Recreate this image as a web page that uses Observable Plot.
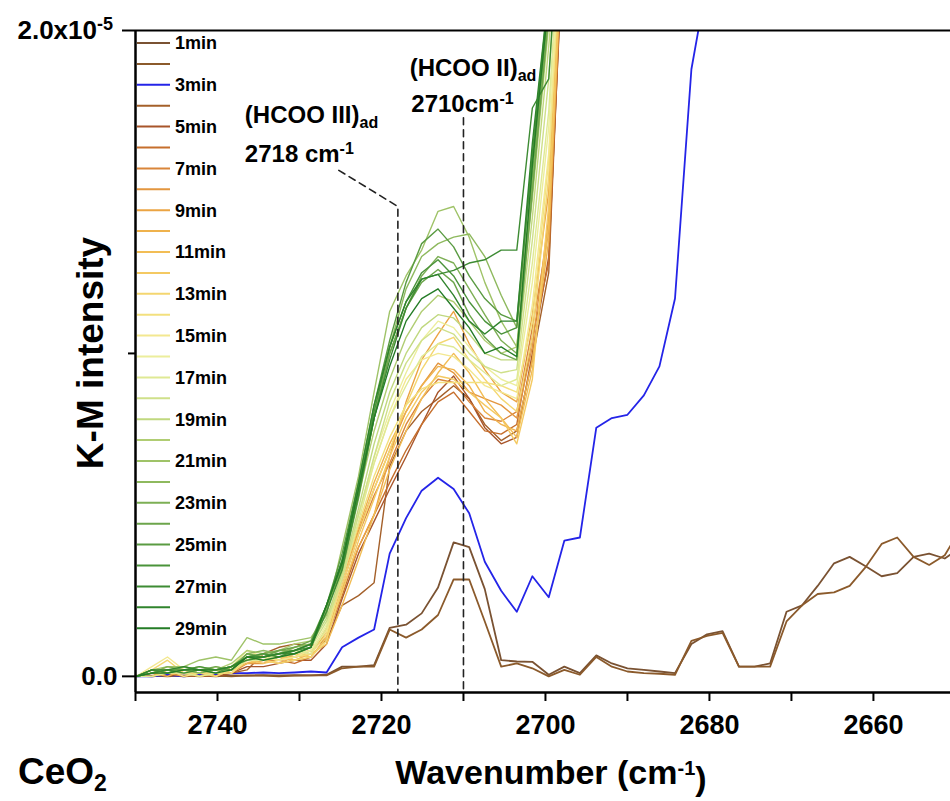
<!DOCTYPE html>
<html>
<head>
<meta charset="utf-8">
<script src="https://cdn.jsdelivr.net/npm/d3@7"></script>
<script src="https://cdn.jsdelivr.net/npm/@observablehq/plot@0.6"></script>
<style>
  html, body { margin: 0; padding: 0; background: #fff; }
  svg { display: block; }
</style>
</head>
<body>
<div id="chart"></div>
<script>
// Wavenumber grid (cm^-1)
const wavenumbers = [2749.9, 2748.0, 2746.1, 2744.1, 2742.2, 2740.2, 2738.3, 2736.4, 2734.4, 2732.5,
  2730.6, 2728.6, 2726.7, 2724.8, 2722.8, 2720.9, 2719.0, 2717.0, 2715.1, 2713.1,
  2711.2, 2709.3, 2707.4, 2705.4, 2703.5, 2701.6, 2699.6, 2697.7, 2695.8, 2693.8,
  2691.9, 2690.0, 2688.0, 2686.1, 2684.2, 2682.2, 2680.3, 2678.4, 2676.4, 2674.5,
  2672.6, 2670.6, 2668.7, 2666.8, 2664.8, 2662.9, 2660.9, 2659.0, 2657.1, 2655.1,
  2653.2, 2651.3, 2649.3];

// K-M intensity values, in units of 1e-5
const km01 = [0.002,0.0,0.003,0.0,0.002,0.0,0.003,0.002,0.004,0.003,0.004,0.003,
  0.005,0.03,0.03,0.035,0.15,0.16,0.195,0.275,0.415,0.40,0.27,0.05,0.046,0.045,0.005,0.03,0.01,0.065,
  0.04,0.025,0.02,0.015,0.01,0.10,0.13,0.14,0.03,0.03,0.04,0.20,0.22,0.28,0.35,0.37,0.34,0.31,0.32,0.37,
  0.38,0.365,0.40];
const km02 = [0.0,0.002,0.0,0.003,0.0,0.002,0.0,0.003,0.002,0.0,0.002,0.003,
  0.003,0.025,0.03,0.03,0.145,0.12,0.145,0.19,0.30,0.30,0.17,0.03,0.04,0.025,0.0,0.02,0.005,0.06,
  0.03,0.015,0.01,0.008,0.005,0.11,0.125,0.135,0.03,0.03,0.03,0.17,0.22,0.255,0.26,0.28,0.34,0.41,0.43,0.37,
  0.345,0.375,0.46];
const km03 = [0.0,0.0,0.005,0.0,0.005,0.005,0.01,0.01,0.012,0.01,0.012,0.015,
  0.012,0.09,0.12,0.145,0.38,0.49,0.575,0.615,0.58,0.505,0.355,0.265,0.20,0.31,0.245,0.42,0.43,0.77,
  0.80,0.81,0.87,0.96,1.17,1.88,2.15];
const km04 = [0.00,0.00,0.01,0.00,0.00,0.00,0.01,0.02,0.07,0.09,0.10,0.095,0.11,0.22,0.25,0.29,0.65,0.76,0.82,0.86,0.90,0.86,0.78,0.73,0.76,0.98,1.25,2.40];
const km05 = [0.00,0.01,0.00,0.01,0.02,0.00,0.01,0.03,0.03,0.04,0.05,0.05,0.10,0.24,0.38,0.48,0.58,0.68,0.78,0.88,0.93,0.86,0.77,0.72,0.74,1.00,1.30,2.35];
const km06 = [0.00,0.00,0.02,0.01,0.00,0.01,0.02,0.04,0.05,0.05,0.04,0.06,0.12,0.25,0.40,0.50,0.60,0.70,0.78,0.85,0.88,0.82,0.76,0.75,0.78,1.05,1.28,2.40];
const km07 = [0.00,0.01,0.01,0.02,0.01,0.00,0.03,0.05,0.06,0.05,0.07,0.08,0.12,0.28,0.44,0.56,0.66,0.78,0.86,0.92,0.91,0.85,0.80,0.79,0.82,1.08,1.38,2.45];
const km08 = [0.00,0.00,0.01,0.00,0.01,0.02,0.01,0.04,0.04,0.06,0.06,0.07,0.14,0.30,0.45,0.58,0.70,0.82,0.90,0.97,0.94,0.88,0.86,0.84,0.80,1.02,1.42,2.40];
const km09 = [0.00,0.02,0.02,0.01,0.00,0.01,0.02,0.05,0.06,0.05,0.06,0.08,0.13,0.27,0.40,0.50,0.68,0.85,0.98,1.06,1.13,1.03,0.95,0.88,0.85,1.12,1.50,2.45];
const km10 = [0.00,0.01,0.00,0.02,0.01,0.01,0.03,0.06,0.05,0.04,0.06,0.07,0.15,0.30,0.46,0.60,0.72,0.82,0.90,0.96,0.95,0.90,0.82,0.78,0.76,0.98,1.35,2.40];
const km11 = [0.00,0.00,0.02,0.01,0.02,0.00,0.02,0.04,0.05,0.06,0.05,0.07,0.10,0.22,0.36,0.50,0.64,0.76,0.86,0.94,1.00,0.94,0.86,0.80,0.74,0.95,1.40,2.45];
const km12 = [0.00,0.01,0.03,0.02,0.00,0.01,0.01,0.05,0.04,0.05,0.07,0.06,0.12,0.26,0.42,0.55,0.68,0.80,0.88,0.93,0.92,0.88,0.84,0.80,0.72,0.92,1.46,2.40];
const km13 = [0.00,0.02,0.05,0.01,0.01,0.00,0.02,0.06,0.05,0.04,0.05,0.06,0.11,0.28,0.44,0.58,0.70,0.84,0.95,1.03,1.05,0.98,0.92,0.86,0.82,1.05,1.55,2.50];
const km14 = [0.00,0.01,0.02,0.00,0.01,0.01,0.01,0.05,0.06,0.05,0.06,0.07,0.13,0.30,0.47,0.62,0.74,0.84,0.89,0.91,0.91,0.91,0.91,0.90,0.88,1.10,1.60,2.45];
const km15 = [0.00,0.03,0.06,0.02,0.01,0.02,0.03,0.08,0.06,0.05,0.06,0.08,0.14,0.32,0.50,0.66,0.80,0.92,0.98,1.00,0.99,0.95,0.90,0.88,0.86,1.15,1.62,2.50];
const km16 = [0.00,0.01,0.02,0.02,0.02,0.01,0.03,0.06,0.05,0.06,0.07,0.08,0.16,0.33,0.50,0.68,0.82,0.94,1.04,1.10,1.08,1.02,0.96,0.92,0.90,1.22,1.70,2.50];
const km17 = [0.00,0.00,0.01,0.01,0.00,0.01,0.02,0.05,0.05,0.07,0.08,0.07,0.15,0.31,0.48,0.66,0.80,0.90,0.99,1.03,1.02,0.98,0.94,0.90,0.92,1.28,1.75,2.55];
const km18 = [0.00,0.01,0.02,0.01,0.02,0.02,0.02,0.06,0.07,0.06,0.07,0.09,0.17,0.30,0.50,0.68,0.85,0.97,1.04,1.08,1.06,1.00,0.96,0.94,0.95,1.35,1.85,2.55];
const km19 = [0.00,0.02,0.01,0.02,0.01,0.03,0.02,0.07,0.06,0.07,0.09,0.10,0.18,0.32,0.52,0.72,0.88,1.00,1.08,1.12,1.11,1.06,1.00,0.98,0.98,1.42,1.95,2.55];
const km20 = [0.00,0.01,0.02,0.03,0.02,0.02,0.04,0.08,0.07,0.08,0.10,0.11,0.20,0.34,0.56,0.76,0.92,1.05,1.13,1.18,1.16,1.10,1.04,1.00,1.02,1.48,2.02,2.60];
const km21 = [0.00,0.02,0.03,0.03,0.05,0.06,0.05,0.12,0.10,0.10,0.11,0.12,0.19,0.40,0.62,0.88,1.13,1.24,1.32,1.44,1.455,1.36,1.22,1.10,1.02,1.50,2.05,2.60];
const km22 = [0.00,0.01,0.02,0.02,0.03,0.02,0.03,0.07,0.08,0.07,0.09,0.10,0.20,0.36,0.58,0.82,1.02,1.20,1.30,1.34,1.36,1.37,1.30,1.18,1.08,1.52,2.06,2.60];
const km23 = [0.00,0.01,0.03,0.02,0.01,0.02,0.03,0.06,0.07,0.08,0.08,0.10,0.21,0.33,0.55,0.80,1.00,1.14,1.24,1.30,1.28,1.20,1.12,1.04,1.00,1.55,2.08,2.60];
const km24 = [0.00,0.02,0.01,0.03,0.02,0.03,0.02,0.07,0.06,0.08,0.09,0.11,0.22,0.34,0.56,0.80,1.00,1.14,1.22,1.26,1.22,1.12,1.05,1.00,0.98,1.50,2.05,2.60];
const km25 = [0.00,0.01,0.02,0.02,0.02,0.01,0.03,0.06,0.06,0.07,0.08,0.10,0.22,0.38,0.60,0.84,1.04,1.22,1.34,1.385,1.33,1.24,1.17,1.12,1.10,1.60,2.10,2.60];
const km26 = [0.00,0.02,0.01,0.02,0.03,0.02,0.02,0.06,0.07,0.06,0.08,0.09,0.22,0.35,0.58,0.82,1.02,1.16,1.25,1.29,1.24,1.16,1.10,1.06,1.08,1.62,2.12,2.60];
const km27 = [0.00,0.01,0.02,0.01,0.02,0.02,0.03,0.05,0.06,0.07,0.07,0.09,0.20,0.33,0.56,0.80,0.98,1.14,1.23,1.245,1.257,1.28,1.29,1.32,1.32,1.76,1.85,2.60];
const km28 = [0.00,0.02,0.02,0.03,0.02,0.02,0.03,0.06,0.06,0.07,0.08,0.10,0.22,0.36,0.60,0.84,1.02,1.16,1.23,1.245,1.18,1.10,1.06,1.10,1.10,1.65,2.12,2.60];
const km29 = [0.00,0.01,0.01,0.02,0.02,0.01,0.02,0.06,0.05,0.06,0.07,0.09,0.22,0.35,0.58,0.80,0.96,1.10,1.17,1.20,1.14,1.08,1.00,1.02,0.99,1.58,2.10,2.60];

const seriesNames = ["1min","2min","3min","4min","5min","6min","7min","8min","9min","10min",
  "11min","12min","13min","14min","15min","16min","17min","18min","19min","20min",
  "21min","22min","23min","24min","25min","26min","27min","28min","29min"];
const seriesValues = [km01,km02,km03,km04,km05,km06,km07,km08,km09,km10,km11,km12,km13,km14,km15,
  km16,km17,km18,km19,km20,km21,km22,km23,km24,km25,km26,km27,km28,km29];
const seriesColors = ["#7a5232","#8b5a2b","#2424e8","#a4602a","#a8552a","#c66f2c","#d9853a","#e3963f",
  "#eba443","#efb24c","#f2bd55","#f4c962","#f4d670","#f3e07e","#f3e890","#ecee9c","#dfe994",
  "#cfe08a","#c0d87f","#b0cd73","#9fc368","#8eb95e","#7daf55","#6ca54b","#5a9b42","#4a933a",
  "#3d8b33","#30842d","#247c26"];

// Axis ticks and annotation values
const xTicks = [2750, 2740, 2730, 2720, 2710, 2700, 2690, 2680, 2670, 2660];
const yTicksMajor = [0, 2];
const yTicksMinor = [1];
const dashA = [{x: 2725.2, y: 1.567}, {x: 2718, y: 1.455}, {x: 2718, y: -0.05}];
const dashB = [{x: 2710, y: 1.73}, {x: 2710, y: -0.05}];
const annotations = [
  {x: 2736.6, y: 1.712, main: "(HCOO III)", sub: "ad"},
  {x: 2736.6, y: 1.592, main: "2718 cm", sup: "-1"},
  {x: 2716.5, y: 1.858, main: "(HCOO II)", sub: "ad"},
  {x: 2716.3, y: 1.746, main: "2710cm", sup: "-1"}
];

const rows = [];
seriesNames.forEach((name, si) => {
  seriesValues[si].forEach((v, i) => rows.push({series: name, wn: wavenumbers[i], v}));
});

const FONT = "'Liberation Sans', Arial, Helvetica, sans-serif";
const special = new Set(["#7a5232", "#8b5a2b", "#2424e8"]);

const chart = Plot.plot({
  width: 950,
  height: 801,
  marginLeft: 135,
  marginTop: 30,
  marginRight: 0,
  marginBottom: 109,
  style: {fontFamily: FONT, fontWeight: "bold", background: "#fff", color: "#000"},
  x: {domain: [2750, 2650.6], label: null},
  y: {domain: [-0.05, 2.0], label: null},
  color: {domain: seriesNames, range: seriesColors},
  marks: [
    Plot.line(rows, {x: "wn", y: "v", z: "series", stroke: "series",
      strokeWidth: 1.4, clip: true, strokeLinejoin: "round"}),
    Plot.line(dashA, {x: "x", y: "y", stroke: "#222", strokeWidth: 1.6, strokeDasharray: "7,5"}),
    Plot.line(dashB, {x: "x", y: "y", stroke: "#222", strokeWidth: 1.6, strokeDasharray: "7,5"}),
    Plot.ruleY([-0.05], {stroke: "#000", strokeWidth: 2.5}),
    Plot.ruleY([2], {stroke: "#000", strokeWidth: 2}),
    Plot.ruleX([2750], {stroke: "#000", strokeWidth: 2.5}),
    Plot.axisX({ticks: xTicks, tickSize: 9, tickPadding: 13, strokeWidth: 2,
      tickFormat: d => (d % 20 === 0 ? String(d) : ""), fontSize: 27, fontWeight: "bold", label: null}),
    Plot.axisY({ticks: yTicksMajor, tickSize: 13, tickPadding: 5, strokeWidth: 2,
      tickFormat: d => (d === 0 ? "0.0" : ""), fontSize: 26, fontWeight: "bold", label: null}),
    Plot.axisY({ticks: yTicksMinor, tickSize: 7, strokeWidth: 2, tickFormat: () => "", label: null})
  ]
});

document.getElementById("chart").appendChild(chart);

const svg = d3.select(chart);
const sx = chart.scale("x"), sy = chart.scale("y");

// top y tick label with superscript exponent
const topLabel = svg.append("text")
  .attr("x", sx.apply(2750) - 22).attr("y", sy.apply(yTicksMajor[1])).attr("dy", "0.36em")
  .attr("text-anchor", "end")
  .attr("font-family", FONT).attr("font-weight", "bold").attr("font-size", 26)
  .text("2.0x10");
topLabel.append("tspan").attr("dy", "-0.5em").attr("font-size", 18).text("-5");

// thicker strokes for the 1, 2 and 3 min spectra
svg.selectAll("path").filter(function() {
  return special.has(this.getAttribute("stroke"));
}).attr("stroke-width", 1.8);

// annotations
annotations.forEach(a => {
  const t = svg.append("text")
    .attr("x", sx.apply(a.x)).attr("y", sy.apply(a.y))
    .attr("text-anchor", "start")
    .attr("font-family", FONT).attr("font-weight", "bold").attr("font-size", 24).attr("fill", "#000")
    .text(a.main);
  if (a.sub) t.append("tspan").attr("dy", "0.3em").attr("font-size", 16).text(a.sub);
  if (a.sup) t.append("tspan").attr("dy", "-0.5em").attr("font-size", 16).text(a.sup);
});

// legend
const lg = svg.append("g").attr("font-family", FONT).attr("font-weight", "bold")
  .attr("font-size", 18).attr("text-anchor", "start");
seriesNames.forEach((name, i) => {
  const y = 43 + i * 20.9;
  lg.append("line").attr("x1", 137).attr("x2", 170).attr("y1", y).attr("y2", y)
    .attr("stroke", seriesColors[i]).attr("stroke-width", 2);
  if (i % 2 === 0) {
    lg.append("text").attr("x", 175).attr("y", y).attr("dy", "0.35em").text(name);
  }
});

// axis titles
svg.append("text")
  .attr("transform", "translate(103,353) rotate(-90)")
  .attr("text-anchor", "middle")
  .attr("font-family", FONT).attr("font-weight", "bold").attr("font-size", 37)
  .text("K-M intensity");

const xt = svg.append("text")
  .attr("x", 551).attr("y", 784)
  .attr("text-anchor", "middle")
  .attr("font-family", FONT).attr("font-weight", "bold").attr("font-size", 34)
  .text("Wavenumber (cm");
xt.append("tspan").attr("dy", "-0.45em").attr("font-size", 20).text("-1");
xt.append("tspan").attr("dy", "0.45em").text(")");

const ce = svg.append("text")
  .attr("x", 18).attr("y", 784)
  .attr("text-anchor", "start")
  .attr("font-family", FONT).attr("font-weight", "bold").attr("font-size", 37)
  .text("CeO");
ce.append("tspan").attr("dy", "0.3em").attr("font-size", 23).text("2");
</script>
</body>
</html>
